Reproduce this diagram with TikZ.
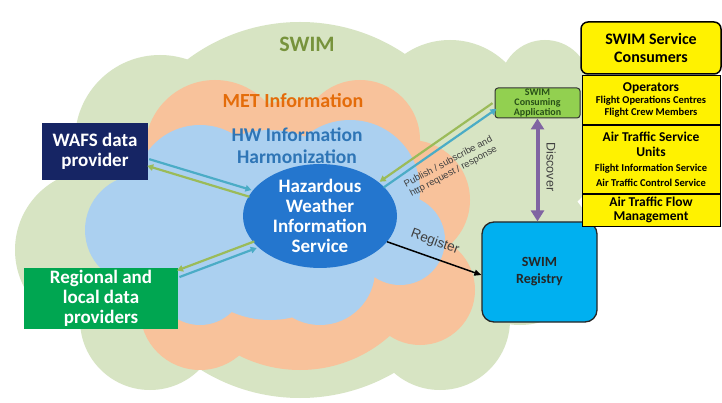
\documentclass[tikz,border=0pt]{standalone}
\usepackage{fontspec}
\setmainfont{Carlito}
\newfontfamily\arialfont{Liberation Sans}
\usetikzlibrary{arrows.meta,calc,shapes.geometric}

\definecolor{swimcloud}{RGB}{215,228,195}
\definecolor{metcloud}{RGB}{248,194,155}
\definecolor{hwcloud}{RGB}{171,208,240}
\definecolor{swimtext}{RGB}{119,147,60}
\definecolor{mettext}{RGB}{228,108,10}
\definecolor{hwtext}{RGB}{46,117,182}
\definecolor{hwisblue}{RGB}{36,118,206}
\definecolor{wafsnavy}{RGB}{22,37,100}
\definecolor{regionalgreen}{RGB}{0,166,81}
\definecolor{appgreen}{RGB}{146,208,80}
\definecolor{apptext}{RGB}{40,80,24}
\definecolor{registryblue}{RGB}{0,176,240}
\definecolor{arrowblue}{RGB}{75,172,198}
\definecolor{arrowgreen}{RGB}{155,187,89}
\definecolor{discoverpurple}{RGB}{128,100,162}
\definecolor{labelgray}{RGB}{64,64,64}

\def \arrowWidth {2.2pt}
\def \pairGap {3.5pt}
\newcommand{\minorline}[1]{{\fontsize{10.5}{11.5}\selectfont #1}}

\tikzset{
  provider/.style={text=white, align=center, inner sep=0pt,
    font=\bfseries\fontsize{19}{20}\selectfont},
  consumer/.style={draw=black, fill=yellow, align=center, inner sep=0pt,
    line width=0.8pt, minimum width=138pt},
  pairarrow/.style={line width=\arrowWidth, -{Triangle[length=6pt,width=6.5pt]}},
  bluearrow/.style={pairarrow, arrowblue},
  greenarrow/.style={pairarrow, arrowgreen},
  flowlabel/.style={text=labelgray}
}

\begin{document}
\begin{tikzpicture}[x=1pt, y=-1pt]
  \fill[white] (0,0) rectangle (722,403);
  \useasboundingbox (0,0) rectangle (722,403);

  % clouds
  \fill[swimcloud] (300,210) circle (188pt) (160,140) circle (85pt)
    (95,250) circle (80pt) (150,320) circle (70pt) (450,120) circle (80pt)
    (530,150) circle (70pt) (520,250) circle (75pt) (440,320) circle (70pt)
    (545,85) circle (45pt);
  \fill[metcloud] (300,235) circle (135pt) (215,150) circle (70pt)
    (360,140) circle (60pt) (410,200) circle (60pt) (170,240) circle (55pt)
    (200,310) circle (60pt) (420,290) circle (55pt);
  \fill[hwcloud] (270,225) circle (95pt) (200,190) circle (65pt)
    (140,230) circle (55pt) (350,190) circle (70pt) (400,240) circle (45pt)
    (320,270) circle (55pt) (200,280) circle (45pt);

  \node[text=swimtext, font=\bfseries\fontsize{22}{24}\selectfont] (swimlbl) at (307,44) {SWIM};
  \node[text=mettext, font=\bfseries\fontsize{20}{22}\selectfont] (metlbl) at (293,101) {MET Information};
  \node[text=hwtext, align=center, font=\bfseries\fontsize{19.5}{22}\selectfont] (hwlbl) at (297,146) {HW Information\\Harmonization};

  % services and providers
  \node[ellipse, fill=hwisblue, minimum width=154pt, minimum height=102pt, provider] (hwis) at (320,216) {Hazardous\\Weather\\Information\\Service};
  \node[fill=wafsnavy, minimum width=106pt, minimum height=57pt, provider] (wafs) at (95,151.5) {WAFS data\\provider};
  \node[fill=regionalgreen, minimum width=154pt, minimum height=61pt, provider] (regional) at (101,298.5) {Regional and\\local data\\providers};
  \node[draw=black!80, fill=appgreen, rounded corners=3pt, line width=1pt, minimum width=85pt, minimum height=30pt, inner sep=0pt,
    align=center, text=apptext, font=\bfseries\fontsize{10}{10}\selectfont] (app) at (537.5,103) {SWIM\\Consuming\\Application};
  \node[draw=black!85, fill=registryblue, rounded corners=12pt, line width=1.3pt, minimum width=115pt, minimum height=100pt,
    align=center, text=black!85, font=\bfseries\fontsize{14}{17}\selectfont] (registry) at (539.5,272) {SWIM\\Registry};

  % consumers
  \node[consumer, line width=1.5pt, rounded corners=7pt, minimum width=140pt, minimum height=52pt,
    font=\bfseries\fontsize{16}{18}\selectfont] (consumers) at (651,48) {SWIM Service\\Consumers};
  \node[consumer, minimum height=49pt, font=\bfseries\fontsize{13.5}{12}\selectfont] (operators) at (651,100)
    {Operators\\\minorline{Flight Operations Centres}\\\minorline{Flight Crew Members}};
  \node[consumer, minimum height=68pt, font=\bfseries\fontsize{13.5}{15}\selectfont] (atsu) at (651,159.5)
    {Air Traffic Service\\Units\\\minorline{Flight Information Service}\\\minorline{Air Traffic Control Service}};
  \node[consumer, minimum height=32pt, font=\bfseries\fontsize{13.5}{14}\selectfont] (atfm) at (651,210)
    {Air Traffic Flow\\Management};

  % arrow pairs
  \coordinate (wafsend) at ([yshift=-11pt]wafs.east);
  \coordinate (regend) at ([yshift=-6pt]regional.north east);
  \coordinate (append) at ([yshift=-3pt]app.west);
  \draw[bluearrow] ($(wafsend)!\pairGap!90:(hwis.162)$) -- ($(hwis.162)!\pairGap!-90:(wafsend)$);
  \draw[greenarrow] ($(hwis.162)!\pairGap!90:(wafsend)$) -- ($(wafsend)!\pairGap!-90:(hwis.162)$);
  \draw[greenarrow] ($(hwis.204)!\pairGap!-90:(regend)$) -- ($(regend)!\pairGap!90:(hwis.204)$);
  \draw[bluearrow] ($(regend)!\pairGap!-90:(hwis.204)$) -- ($(hwis.204)!\pairGap!90:(regend)$);
  \draw[greenarrow] ($(append)!\pairGap!-90:(hwis.27)$) -- ($(hwis.27)!\pairGap!90:(append)$);
  \draw[bluearrow] ($(hwis.27)!\pairGap!-90:(append)$) -- ($(append)!\pairGap!90:(hwis.27)$);

  \draw[line width=1.5pt, -{Triangle[length=7pt,width=6pt]}] (hwis.-21) -- ([yshift=-3pt]registry.west);
  \draw[discoverpurple, line width=4pt, {Triangle[length=11pt,width=13pt]}-{Triangle[length=11pt,width=13pt]}]
    (app.south) -- (app.south |- registry.north);

  % labels
  \node[flowlabel, rotate=28, align=center, font=\arialfont\fontsize{9.5}{11}\selectfont] (publbl) at (451,167)
    {Publish / subscribe and\\http request / response};
  \node[flowlabel, rotate=-20, font=\arialfont\fontsize{13.5}{15}\selectfont] (reglbl) at (435,242) {Register};
  \node[flowlabel, rotate=-90, font=\arialfont\fontsize{12.5}{14}\selectfont] (disclbl) at (551,167) {Discover};
\end{tikzpicture}
\end{document}
